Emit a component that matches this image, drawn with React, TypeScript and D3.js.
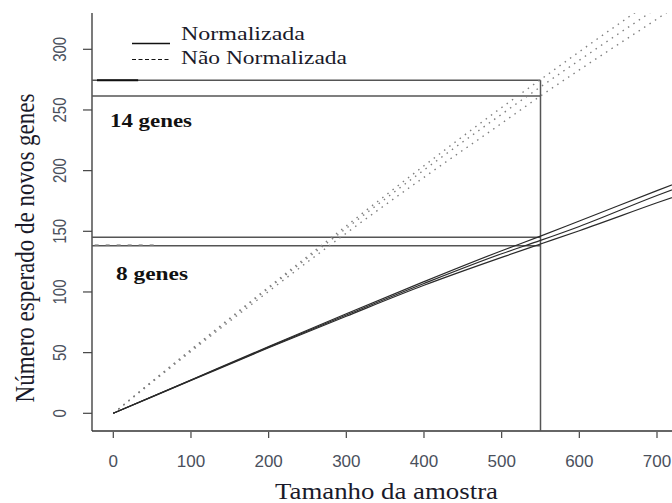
import React from "react";
import * as d3 from "d3";

const sampleSizes = [0, 100, 200, 300, 400, 500, 550, 600, 700, 740];

// normalized (solid) curves
const normA = [0, 27.5, 55, 82, 108.5, 134, 146, 158.5, 183.5, 193.5];
const normB = [0, 27.3, 54.5, 81, 107, 131.5, 142.5, 154, 179.5, 189];
const normC = [0, 27, 54, 80, 105.5, 128.5, 139.5, 150.5, 173.5, 182.5];

// not normalized (dotted) curves
const rawD = [0, 52.5, 104, 154.5, 204, 252, 275, 298, 343, 361];
const rawE = [0, 52, 103, 152.5, 200.5, 246.5, 269, 291, 334, 351];
const rawF = [0, 51, 100.5, 148.5, 194.5, 239, 261.5, 283, 325, 342];

const xTicks = [0, 100, 200, 300, 400, 500, 600, 700];
const yTicks = [0, 50, 100, 150, 200, 250, 300];

const cutX = 550;
const upperRefs = [274.5, 261.5];
const lowerRefs = [145, 138];

const legendItems = ["Normalizada", "Não Normalizada"];

const W = 672;
const H = 503;
const serif = "'Liberation Serif', 'Times New Roman', serif";
const sans = "'Liberation Sans', Arial, sans-serif";

export default function App() {
  const x = d3.scaleLinear().domain([0, 700]).range([113.3, 657]);
  const y = d3.scaleLinear().domain([0, 300]).range([413.3, 49.3]);

  const boxLeft = 92;
  const boxTop = 13;
  const boxBottom = 431;

  const line = d3
    .line<number>()
    .x((_, i) => x(sampleSizes[i]))
    .y((d) => y(d))
    .curve(d3.curveMonotoneX);

  const solid = [normA, normB, normC];
  const dotted = [rawD, rawE, rawF];

  return (
    <svg
      width={W}
      height={H}
      style={{ position: "absolute", left: 0, top: 0, background: "#fff" }}
    >
      <defs>
        <clipPath id="plotClip">
          <rect x={boxLeft} y={boxTop} width={W - boxLeft} height={boxBottom - boxTop} />
        </clipPath>
      </defs>

      {/* L-shaped box */}
      <line x1={boxLeft} x2={boxLeft} y1={boxTop} y2={boxBottom} stroke="#333" strokeWidth={1.3} />
      <line x1={boxLeft} x2={W} y1={boxBottom} y2={boxBottom} stroke="#333" strokeWidth={1.3} />

      {/* y axis */}
      {yTicks.map((t) => (
        <g key={"y" + t}>
          <line x1={83} x2={boxLeft} y1={y(t)} y2={y(t)} stroke="#444" strokeWidth={1.2} />
          <text
            transform={`translate(66,${y(t)}) scale(1.2,1) rotate(-90)`}
            textAnchor="middle"
            fontFamily={sans}
            fontSize={15}
            fill="#4a505c"
          >
            {t}
          </text>
        </g>
      ))}

      {/* x axis */}
      {xTicks.map((t) => (
        <g key={"x" + t}>
          <line x1={x(t)} x2={x(t)} y1={boxBottom + 1} y2={boxBottom + 7} stroke="#444" strokeWidth={1.2} />
          <text
            x={x(t)}
            y={467}
            textAnchor="middle"
            fontFamily={sans}
            fontSize={17}
            fill="#4a505c"
          >
            {t}
          </text>
        </g>
      ))}

      <text
        x={386.5}
        y={499}
        textAnchor="middle"
        fontFamily={serif}
        fontSize={23}
        fill="#1a1a2a"
        textLength={223}
        lengthAdjust="spacingAndGlyphs"
      >
        Tamanho da amostra
      </text>
      <text
        transform="translate(34,248) scale(1.15,1) rotate(-90)"
        textAnchor="middle"
        fontFamily={serif}
        fontSize={23}
        fill="#1a1a2a"
      >
        Número esperado de novos genes
      </text>

      <g clipPath="url(#plotClip)">
        {/* reference lines */}
        {[...upperRefs, ...lowerRefs].map((v, i) => (
          <line
            key={"h" + i}
            x1={boxLeft}
            x2={x(cutX)}
            y1={y(v)}
            y2={y(v)}
            stroke="#555"
            strokeWidth={1.5}
          />
        ))}
        <line
          x1={x(cutX)}
          x2={x(cutX)}
          y1={y(upperRefs[0])}
          y2={boxBottom}
          stroke="#555"
          strokeWidth={1.5}
        />
        <line x1={x(-21)} x2={x(32)} y1={y(upperRefs[0])} y2={y(upperRefs[0])} stroke="#111" strokeWidth={2} />
        <line
          x1={x(-24)}
          x2={x(56)}
          y1={y(lowerRefs[1]) - 1}
          y2={y(lowerRefs[1]) - 1}
          stroke="#999"
          strokeWidth={1.2}
          strokeDasharray="4,7"
        />

        {dotted.map((s, i) => (
          <path
            key={"d" + i}
            d={line(s) ?? ""}
            fill="none"
            stroke="#808080"
            strokeWidth={1.4}
            strokeDasharray="1.5,5"
          />
        ))}
        {solid.map((s, i) => (
          <path key={"s" + i} d={line(s) ?? ""} fill="none" stroke="#2a2a2a" strokeWidth={1.2} />
        ))}
      </g>

      {/* annotations */}
      <text
        x={110}
        y={127}
        fontFamily={serif}
        fontWeight="bold"
        fontSize={19}
        fill="#111"
        textLength={82}
        lengthAdjust="spacingAndGlyphs"
      >
        14 genes
      </text>
      <text
        x={116}
        y={279.5}
        fontFamily={serif}
        fontWeight="bold"
        fontSize={19}
        fill="#111"
        textLength={72}
        lengthAdjust="spacingAndGlyphs"
      >
        8 genes
      </text>

      {/* legend */}
      <line x1={132} x2={170} y1={43.5} y2={43.5} stroke="#111" strokeWidth={1.4} />
      <line
        x1={132}
        x2={169}
        y1={59.5}
        y2={59.5}
        stroke="#111"
        strokeWidth={1.2}
        strokeDasharray="4,2.5"
      />
      {legendItems.map((label, i) => (
        <text
          key={label}
          x={181}
          y={40 + i * 23.5}
          fontFamily={serif}
          fontSize={19}
          fill="#1a1a2a"
          textLength={i === 0 ? 124 : 166}
          lengthAdjust="spacingAndGlyphs"
        >
          {label}
        </text>
      ))}
    </svg>
  );
}
